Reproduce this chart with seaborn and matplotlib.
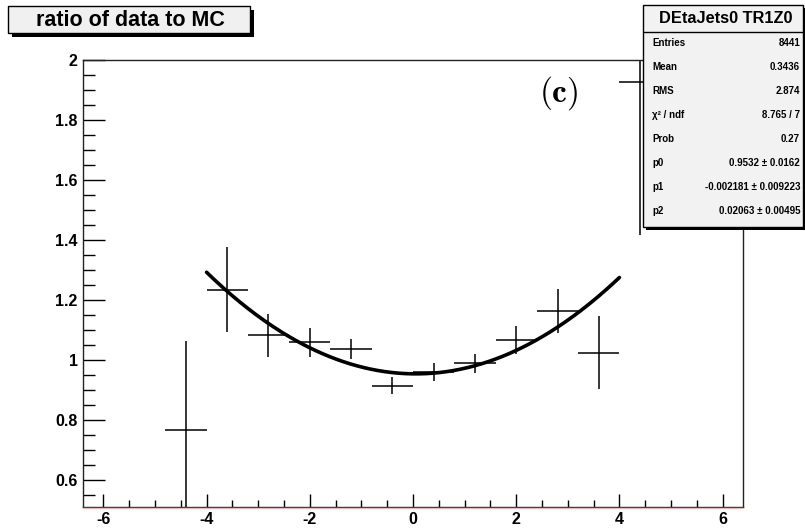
import numpy as np
import matplotlib
matplotlib.use("Agg")
import matplotlib.pyplot as plt
import seaborn as sns
from matplotlib.patches import Rectangle
from matplotlib.lines import Line2D
from matplotlib.ticker import MultipleLocator, FixedLocator

# ---- data ----
bin_centers = [-4.4, -3.6, -2.8, -2.0, -1.2, -0.4, 0.4, 1.2, 2.0, 2.8, 3.6, 4.4]
ratio = [0.767, 1.234, 1.082, 1.059, 1.036, 0.914, 0.960, 0.988, 1.065, 1.162, 1.024, 1.927]
ratio_err = [0.297, 0.142, 0.071, 0.048, 0.035, 0.029, 0.030, 0.031, 0.047, 0.073, 0.123, 0.51]
bin_half_width = 0.4

# pol2 fit shown in the stat box
fit_params = [0.9532, -0.002181, 0.02063]
fit_range = [-4.0, 4.0]

x_ticks = [-6, -4, -2, 0, 2, 4, 6]
y_ticks = [0.6, 0.8, 1.0, 1.2, 1.4, 1.6, 1.8, 2.0]

stat_title = "DEtaJets0 TR1Z0"
stat_names = ["Entries", "Mean", "RMS", "χ² / ndf", "Prob", "p0", "p1", "p2"]
stat_values = ["8441", "0.3436", "2.874", "8.765 / 7", "0.27",
               "0.9532 ± 0.0162", "-0.002181 ± 0.009223", "0.02063 ± 0.00495"]

plot_title = "ratio of data to MC"
panel_label = r'$\mathbf{(c)}$'

# ---- style ----
sns.set_style("ticks")
plt.rcParams['font.family'] = ['Liberation Sans', 'DejaVu Sans']
plt.rcParams['axes.unicode_minus'] = False
plt.rcParams['mathtext.fontset'] = 'cm'

W, H = 805, 531
fig = plt.figure(figsize=(W / 100, H / 100), dpi=100)
fig.patch.set_facecolor('white')


def fx(px):
    return px / W


def fy(py):
    return 1 - py / H


ax_l, ax_r, ax_t, ax_b = 82.7, 743.3, 60, 506.7
ax = fig.add_axes([fx(ax_l), fy(ax_b), fx(ax_r - ax_l), (ax_b - ax_t) / H])

# error crosses
ax.errorbar(bin_centers, ratio, xerr=bin_half_width, yerr=ratio_err,
            fmt='none', ecolor='black', elinewidth=1.1, capsize=0, zorder=2)

# fit curve
xf = np.linspace(fit_range[0], fit_range[1], 300)
yf = fit_params[0] + fit_params[1] * xf + fit_params[2] * xf ** 2
sns.lineplot(x=xf, y=yf, ax=ax, color='black', linewidth=2.6, zorder=3)

ax.set_xlim(-6.4, 6.4)
ax.set_ylim(0.51, 2.0)

ax.xaxis.set_major_locator(FixedLocator(x_ticks))
ax.xaxis.set_minor_locator(MultipleLocator(0.5))
ax.yaxis.set_major_locator(FixedLocator(y_ticks))
ax.yaxis.set_minor_locator(MultipleLocator(0.05))
ax.set_xticklabels([f"{t:g}" for t in x_ticks])
ax.set_yticklabels([f"{t:g}" for t in y_ticks])

ax.tick_params(axis='both', which='both', direction='in', top=False, right=False,
               colors='black', width=1.0)
ax.tick_params(axis='x', which='major', length=9.6, pad=4)
ax.tick_params(axis='x', which='minor', length=4.8)
ax.tick_params(axis='y', which='major', length=15.5, pad=3.5)
ax.tick_params(axis='y', which='minor', length=8.4)
for lab in ax.get_xticklabels() + ax.get_yticklabels():
    lab.set_fontsize(11.5)
    lab.set_fontweight('bold')

for sp in ax.spines.values():
    sp.set_visible(True)
    sp.set_color('#222222')
    sp.set_linewidth(1.0)

# faint pink line under the x axis
fig.add_artist(Line2D([fx(ax_l), fx(ax_r)], [fy(ax_b + 1.2), fy(ax_b + 1.2)],
                      color='#f2b5b5', lw=1.0, zorder=0.5))

# panel label
ax.text(fx(559), fy(93), panel_label, transform=fig.transFigure,
        ha='center', va='center', fontsize=24, color='black')

# ---- title box ----
fig.add_artist(Rectangle((fx(12), fy(37)), fx(242), 27 / H, transform=fig.transFigure,
                         facecolor='black', edgecolor='none', zorder=4))
fig.add_artist(Rectangle((fx(8), fy(33)), fx(242), 27 / H, transform=fig.transFigure,
                         facecolor='#f0f0f0', edgecolor='black', lw=1.0, zorder=5))
fig.text(fx(130), fy(21), plot_title, ha='center', va='center', fontsize=15.5,
         fontweight='bold', color='black', zorder=6)

# ---- stat box ----
bx0, bx1, by0, by1 = 643, 803, 5, 227
fig.add_artist(Rectangle((fx(bx0 + 3), fy(by1 + 3)), fx(bx1 - bx0), (by1 - by0) / H,
                         transform=fig.transFigure, facecolor='black', edgecolor='none', zorder=4))
fig.add_artist(Rectangle((fx(bx0), fy(by1)), fx(bx1 - bx0), (by1 - by0) / H,
                         transform=fig.transFigure, facecolor='#f2f2f2', edgecolor='black',
                         lw=1.0, zorder=5))
fig.add_artist(Line2D([fx(bx0), fx(bx1)], [fy(31.5), fy(31.5)], color='black', lw=1.0, zorder=6))
fig.text(fx(726), fy(18.5), stat_title, ha='center', va='center',
         fontsize=11.8, fontweight='bold', color='black', zorder=7)
for i, (name, val) in enumerate(zip(stat_names, stat_values)):
    yy = fy(43.5 + 24.0 * i)
    fig.text(fx(652), yy, name, ha='left', va='center', fontsize=7,
             fontweight='bold', color='black', zorder=7)
    fig.text(fx(800), yy, val, ha='right', va='center', fontsize=7,
             fontweight='bold', color='black', zorder=7)

fig.savefig('out.png', dpi=100, facecolor='white')
